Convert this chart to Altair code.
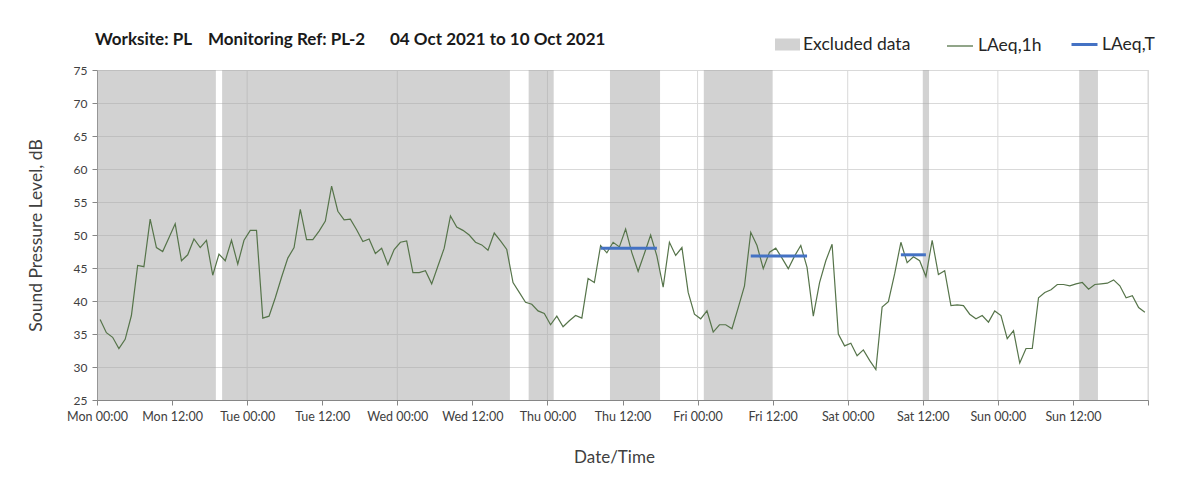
import altair as alt
import pandas as pd

# ---------------- data ----------------
day_names = ["Mon", "Tue", "Wed", "Thu", "Fri", "Sat", "Sun"]

# hourly LAeq,1h values, Mon 04 Oct 00:00 .. Sun 10 Oct 23:00
laeq_1h_mon = [37.2, 35.2, 34.5, 32.8, 34.2, 37.8, 45.4, 45.2, 52.4, 48.1, 47.5, 49.6,
               51.7, 46.1, 47.0, 49.4, 48.1, 49.2, 43.9, 47.1, 46.1, 49.2, 45.6, 49.2]
laeq_1h_tue = [50.7, 50.7, 37.4, 37.7, 40.5, 43.6, 46.5, 48.1, 53.9, 49.3, 49.3, 50.6,
               52.1, 57.4, 53.6, 52.3, 52.4, 50.8, 49.0, 49.4, 47.2, 48.0, 45.5, 47.8]
laeq_1h_wed = [48.9, 49.1, 44.3, 44.3, 44.6, 42.6, 45.3, 48.0, 52.9, 51.2, 50.7, 50.0,
               48.9, 48.5, 47.7, 50.3, 49.1, 47.8, 42.8, 41.3, 39.8, 39.5, 38.5, 38.1]
laeq_1h_thu = [36.4, 37.7, 36.1, 37.0, 37.8, 37.4, 43.4, 42.8, 48.4, 47.3, 48.9, 48.2,
               50.9, 47.3, 44.5, 47.2, 50.0, 46.8, 42.1, 48.9, 46.9, 48.1, 41.3, 38.0]
laeq_1h_fri = [37.3, 38.5, 35.3, 36.4, 36.4, 35.8, 39.0, 42.3, 50.4, 48.4, 44.9, 47.4,
               48.0, 46.5, 44.9, 46.8, 48.4, 45.1, 37.7, 42.8, 46.1, 48.6, 35.0, 33.2]
laeq_1h_sat = [33.6, 31.7, 32.6, 31.0, 29.6, 39.1, 39.9, 44.1, 48.9, 45.8, 46.7, 46.1,
               43.7, 49.2, 44.0, 44.6, 39.3, 39.4, 39.3, 38.0, 37.3, 37.8, 36.8, 38.5]
laeq_1h_sun = [37.8, 34.3, 35.5, 30.6, 32.8, 32.8, 40.5, 41.3, 41.7, 42.5, 42.5, 42.3,
               42.6, 42.8, 41.8, 42.5, 42.6, 42.7, 43.2, 42.3, 40.5, 40.8, 39.0, 38.3]

# excluded periods (hours from Mon 00:00)
excluded_start = [0, 20, 69, 82, 97, 132, 157]
excluded_end = [19, 66, 73, 90, 108, 133, 160]

# LAeq,T periods (hour index of first and last hourly value) and level
laeq_t_start = [80, 104, 128]
laeq_t_end = [89, 113, 132]
laeq_t_value = [48.0, 46.8, 47.0]

# midnight grid lines and 12-hourly ticks
midnight_hours = [24, 48, 72, 96, 120, 144, 168]
tick_hours = list(range(0, 169, 12))

title_text = ("Worksite: PL\u00a0\u00a0\u00a0 Monitoring Ref: PL-2"
              "\u00a0\u00a0\u00a0\u00a0\u00a0 04 Oct 2021 to 10 Oct 2021")

# ---------------- tables ----------------
laeq_1h = (laeq_1h_mon + laeq_1h_tue + laeq_1h_wed + laeq_1h_thu
           + laeq_1h_fri + laeq_1h_sat + laeq_1h_sun)
line_df = pd.DataFrame({
    "t": [i + 0.5 for i in range(len(laeq_1h))],
    "v": laeq_1h,
    "s": ["LAeq,1h"] * len(laeq_1h),
})
band_df = pd.DataFrame({
    "t0": excluded_start,
    "t1": excluded_end,
    "s": ["Excluded data"] * len(excluded_start),
})
lt_df = pd.DataFrame({
    "t0": [a + 0.5 for a in laeq_t_start],
    "t1": [b + 0.5 for b in laeq_t_end],
    "v": laeq_t_value,
    "s": ["LAeq,T"] * len(laeq_t_value),
})
grid_df = pd.DataFrame({"t": midnight_hours})
title_df = pd.DataFrame({"txt": [title_text]})

FONT = "Lato"
TXT = "#404040"

label_expr = ("datum.value >= 168 ? '' : "
              "['Mon','Tue','Wed','Thu','Fri','Sat','Sun'][floor(datum.value / 24)] + ' ' + "
              "(datum.value % 24 == 0 ? '00:00' : '12:00')")

x_scale = alt.Scale(domain=[0, 168], nice=False, zero=False)
y_scale = alt.Scale(domain=[25, 75], nice=False, zero=False)

x_axis = alt.Axis(values=tick_hours, labelExpr=label_expr, grid=False,
                  title="Date/Time", titleFont=FONT, titleFontSize=17,
                  titleFontWeight="normal", titleColor=TXT, titlePadding=27,
                  titleX=517,
                  labelFont=FONT, labelFontSize=12.5, labelColor=TXT,
                  labelPadding=5, tickSize=5, tickColor="#868686",
                  domainColor="#868686", labelOverlap=False, labelFlush=False)
y_axis = alt.Axis(values=list(range(25, 76, 5)), grid=True, gridColor="#d9d9d9",
                  title="Sound Pressure Level, dB", titleFont=FONT,
                  titleFontSize=17.5, titleFontWeight="normal", titleColor=TXT,
                  titlePadding=28, labelFont=FONT, labelFontSize=12,
                  labelColor=TXT, labelPadding=5, tickSize=5,
                  tickColor="#868686", domainColor="#868686")

grid = alt.Chart(grid_df).mark_rule(color="#d9d9d9", strokeWidth=1).encode(
    x=alt.X("t:Q", scale=x_scale, axis=x_axis)
)

bands = alt.Chart(band_df).mark_rect(opacity=0.5).encode(
    x=alt.X("t0:Q", scale=x_scale, axis=x_axis),
    x2="t1:Q",
    fill=alt.Fill("s:N", scale=alt.Scale(domain=["Excluded data"], range=["#a6a6a6"]),
                  legend=alt.Legend(title=None, orient="none", legendX=678, legendY=-38,
                                    symbolType="M-1,-0.48H1V0.48H-1Z", symbolSize=625,
                                    symbolOpacity=0.5, symbolStrokeWidth=0,
                                    labelFont=FONT, labelFontSize=17.5, labelColor="#262626",
                                    labelOffset=3, padding=0)),
)

line = alt.Chart(line_df).mark_line(strokeWidth=1.2, interpolate="linear").encode(
    x=alt.X("t:Q", scale=x_scale, axis=x_axis),
    y=alt.Y("v:Q", scale=y_scale, axis=y_axis),
    stroke=alt.Stroke("s:N", scale=alt.Scale(domain=["LAeq,1h"], range=["#56744a"]),
                      legend=alt.Legend(title=None, orient="none", legendX=849, legendY=-38,
                                        symbolType="stroke", symbolSize=676,
                                        symbolStrokeWidth=1.3,
                                        labelFont=FONT, labelFontSize=17.5,
                                        labelColor="#262626",
                                        labelOffset=4, padding=0)),
)

laeq_t = alt.Chart(lt_df).mark_rule(color="#4472c4").encode(
    x=alt.X("t0:Q", scale=x_scale, axis=x_axis),
    x2="t1:Q",
    y=alt.Y("v:Q", scale=y_scale, axis=y_axis),
    strokeWidth=alt.StrokeWidth("s:N", scale=alt.Scale(type="ordinal", domain=["LAeq,T"],
                                                       range=[3]),
                                legend=alt.Legend(title=None, orient="none", legendX=973,
                                                  legendY=-40, symbolType="stroke",
                                                  symbolSize=676, symbolStrokeWidth=3,
                                                  symbolStrokeColor="#4472c4",
                                                  labelFont=FONT, labelFontSize=17.5,
                                                  labelColor="#262626",
                                                  labelOffset=3, padding=0)),
)

title = alt.Chart(title_df).mark_text(
    font=FONT, fontSize=17, fontWeight="bold", color="#1a1a1a",
    align="left", baseline="middle"
).encode(
    x=alt.value(-2), y=alt.value(-30), text="txt:N"
)

chart = alt.layer(grid, bands, line, laeq_t, title).properties(
    width=1051,
    height=330,
    autosize=alt.AutoSizeParams(type="none"),
    padding={"left": 89, "top": 62, "right": 40, "bottom": 80},
).configure_view(stroke=None).configure(background="white")

chart.save("out.html", embed_options={"renderer": "svg", "actions": False})
